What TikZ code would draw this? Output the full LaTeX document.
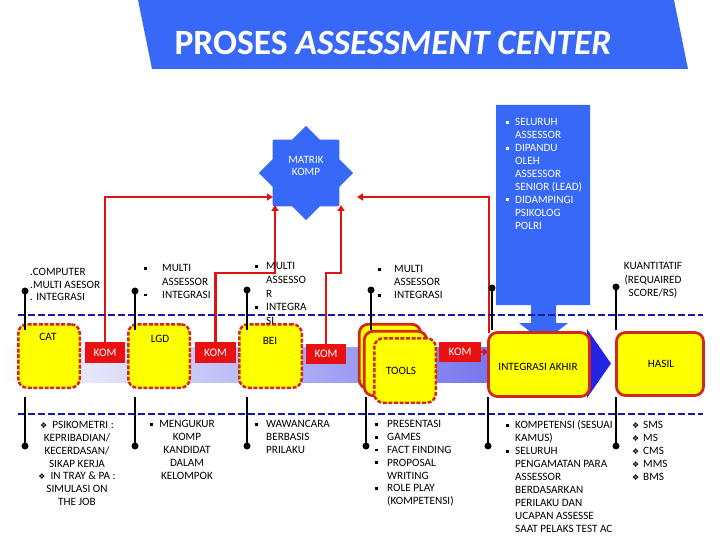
\documentclass[tikz,border=0pt]{standalone}
\usepackage{fontspec}
\setmainfont{Carlito}
\newfontfamily\dejavu{DejaVu Sans}
\usetikzlibrary{shapes.geometric,arrows.meta}
\definecolor{titleblue}{RGB}{56,104,248}
\definecolor{kred}{RGB}{232,16,16}
\definecolor{lred}{RGB}{222,20,20}
\definecolor{bred}{RGB}{210,40,25}
\definecolor{byellow}{RGB}{255,255,0}
\definecolor{navy}{RGB}{25,25,165}
\definecolor{bandblue}{RGB}{90,90,235}
\definecolor{headblue}{RGB}{35,35,230}
\newcommand{\bul}{\raisebox{2.2pt}{\rule{2.8pt}{2.8pt}}}
\newcommand{\dia}{{\dejavu\fontsize{8}{8}\selectfont ❖}}
\newcommand{\sz}[1]{\fontsize{11.2}{#1}\selectfont}
\tikzset{
 ybox/.style={draw=bred, fill=byellow, line width=2.5pt, rounded corners=9pt, dash pattern=on 4pt off 1.6pt, inner sep=0},
 ysolid/.style={draw=bred, fill=byellow, line width=2.8pt, rounded corners=9pt, inner sep=0},
 kombox/.style={fill=kred, text=white, inner sep=0, font=\fontsize{11.5}{12}\selectfont},
 redline/.style={draw=lred, line width=2.4pt},
 redarrow/.style={redline, -{Triangle[length=6pt,width=7pt]}},
 conn/.style={line width=2.4pt, draw=black},
 dotnode/.style={circle, fill=black, inner sep=0, minimum size=7pt},
 navydash/.style={draw=navy, line width=2.6pt, dash pattern=on 7pt off 3pt},
 txt/.style={inner sep=0, align=left, anchor=north west},
 boxlabel/.style={inner sep=0, font=\fontsize{11.2}{12}\selectfont},
}
\begin{document}
\begin{tikzpicture}[x=1pt,y=-1pt]
\useasboundingbox (0,0) rectangle (720,540);
% title banner
\fill[titleblue] (138,0) -- (674,0) -- (688,69) -- (152,69) -- cycle;
\node[text=white, inner sep=0, font=\fontsize{35.5}{37}\selectfont\bfseries] (title) at (393,43) {PROSES \textit{ASSESSMENT CENTER}};
% band arrow
\shade[left color=white, right color=bandblue] (0,347) rectangle (590,382);
\fill[headblue] (587,329) -- (611,363.5) -- (587,398) -- cycle;
% blue box with down arrow
\fill[titleblue] (496,105) -- (590,105) -- (590,305) -- (556,305) -- (556,323) -- (568,323) -- (543.5,342) -- (519,323) -- (531,323) -- (531,305) -- (496,305) -- cycle;
\node[txt, text=white, font=\sz{12.9}] (tblue) at (515,118.5) {\llap{\bul\hspace{6.5pt}}SELURUH\\ASSESSOR\\\llap{\bul\hspace{6.5pt}}DIPANDU\\OLEH\\ASSESSOR\\SENIOR (LEAD)\\\llap{\bul\hspace{6.5pt}}DIDAMPINGI\\PSIKOLOG\\POLRI};
% star
\node[star, star points=8, star point ratio=1.3, minimum size=94pt, inner sep=0, fill=titleblue] (star) at (306,173) {};
\node[text=white, font=\sz{12.5}, align=center, inner sep=0] (starL) at (306,166) {MATRIK\\KOMP};
% KOM boxes
\node[kombox, minimum width=40pt, minimum height=21pt] (kom1) at (105,352.5) {KOM};
\node[kombox, minimum width=41pt, minimum height=21pt] (kom2) at (215.5,352.5) {KOM};
\node[kombox, minimum width=40pt, minimum height=20pt] (kom3) at (326,354) {KOM};
\node[kombox, minimum width=42pt, minimum height=20pt] (kom4) at (460,352) {KOM};
% red connectors
\coordinate (s1) at (273,197);
\coordinate (s2) at (275,205);
\coordinate (s3) at (341,205);
\coordinate (s4) at (357,197);
\coordinate (i4) at (489,333);
\draw[redarrow] (kom1.north) |- (s1);
\draw[redarrow] (kom2.north) -- ++(0,-69) -| (s2);
\draw[redarrow] (kom3.north) -- ++(0,-71) -| (s3);
\draw[redarrow] (i4) |- (s4);
% yellow boxes
\node[ybox, minimum width=61.5pt, minimum height=63.5pt] (cat) at (49,356) {};
\node[ybox, minimum width=61.5pt, minimum height=63.5pt] (lgd) at (159,356) {};
\node[ybox, minimum width=62.5pt, minimum height=63.5pt] (bei) at (270.5,356) {};
\node[ysolid, minimum width=61.5pt, minimum height=64.5pt] (toolsA) at (390,356.5) {};
\node[ysolid, minimum width=62.5pt, minimum height=64.5pt] (toolsB) at (395.5,363.5) {};
\node[ybox, minimum width=61.5pt, minimum height=64.5pt] (tools) at (405,370.5) {};
\draw[redline, -{Triangle[length=5pt,width=7pt]}] (kom4.east) -- (kom4.east -| 488,0);
\node[ysolid, minimum width=101pt, minimum height=64pt] (integ) at (539,364.5) {};
\node[ysolid, minimum width=87pt, minimum height=63pt] (hasil) at (660,364) {};
\node[boxlabel] (catL) at (48,337) {CAT};
\node[boxlabel] (lgdL) at (160,339) {LGD};
\node[boxlabel] (beiL) at (270,341) {BEI};
\node[boxlabel] (toolsL) at (401,371) {TOOLS};
\node[boxlabel] (integL) at (538,367) {INTEGRASI AKHIR};
\node[boxlabel] (hasilL) at (661,364) {HASIL};
% dashed separators
\draw[navydash] (18,315) -- (703,315);
\draw[navydash] (18,414) -- (703,414);
% black connectors
\foreach \n/\x/\y in {t1/25/291, t2/135/291, t3/247/290, t4/371/290, t5/492/288, t6/616/287} {
  \node[dotnode] (\n) at (\x,\y) {};
  \coordinate (\n-e) at (\x,330);
  \draw[conn] (\n.center) -- (\n-e);
}
\foreach \n/\x in {b1/25, b2/135, b3/247, b4/366, b5/488, b6/616} {
  \node[dotnode] (\n) at (\x,446) {};
  \coordinate (\n-s) at (\x,397);
  \draw[conn] (\n-s) -- (\n.center);
}
% upper texts
\node[txt, font=\sz{12.6}] (tcat) at (30,268) {.COMPUTER\\.MULTI ASESOR\\. INTEGRASI};
\node[txt, font=\sz{13.4}] (tlgd) at (162,264.5) {\llap{\bul\hspace{15pt}}MULTI\\ASSESSOR\\\llap{\bul\hspace{15pt}}INTEGRASI};
\node[txt, font=\sz{13.7}] (tbei) at (266,262.5) {\llap{\bul\hspace{8.5pt}}MULTI\\ASSESSO\\R\\\llap{\bul\hspace{8.5pt}}INTEGRA\\SI};
\node[txt, font=\sz{13}] (ttools) at (394,265.5) {\llap{\bul\hspace{13.5pt}}MULTI\\ASSESSOR\\\llap{\bul\hspace{13.5pt}}INTEGRASI};
\node[txt, align=center, anchor=north, font=\sz{13.5}] (thasil) at (653,262.5) {KUANTITATIF\\(REQUAIRED\\SCORE/RS)};
% lower texts
\node[txt, align=center, anchor=north, font=\sz{12.7}] (bcat) at (77,421.5) {\dia\hspace{5pt}PSIKOMETRI :\\KEPRIBADIAN/\\KECERDASAN/\\SIKAP KERJA\\\dia\hspace{5pt}IN TRAY \& PA :\\SIMULASI ON\\THE JOB};
\node[txt, align=center, anchor=north, font=\sz{12.8}] (blgd) at (187,420.5) {\llap{\bul\hspace{6pt}}MENGUKUR\\KOMP\\KANDIDAT\\DALAM\\KELOMPOK};
\node[txt, font=\sz{12.7}] (bbei) at (266,420.5) {\llap{\bul\hspace{8.5pt}}WAWANCARA\\BERBASIS\\PRILAKU};
\node[txt, font=\sz{12.8}] (btools) at (387,420.5) {\llap{\bul\hspace{9.5pt}}PRESENTASI\\\llap{\bul\hspace{9.5pt}}GAMES\\\llap{\bul\hspace{9.5pt}}FACT FINDING\\\llap{\bul\hspace{9.5pt}}PROPOSAL\\WRITING\\\llap{\bul\hspace{9.5pt}}ROLE PLAY\\(KOMPETENSI)};
\node[txt, font=\sz{13}] (binteg) at (515,420.5) {\llap{\bul\hspace{6.5pt}}KOMPETENSI (SESUAI\\KAMUS)\\\llap{\bul\hspace{6.5pt}}SELURUH\\PENGAMATAN PARA\\ASSESSOR\\BERDASARKAN\\PERILAKU DAN\\UCAPAN ASSESSE\\SAAT PELAKS TEST AC};
\node[txt, font=\sz{13}] (bhasil) at (643,421.5) {\llap{\dia\hspace{4pt}}SMS\\\llap{\dia\hspace{4pt}}MS\\\llap{\dia\hspace{4pt}}CMS\\\llap{\dia\hspace{4pt}}MMS\\\llap{\dia\hspace{4pt}}BMS};
\end{tikzpicture}
\end{document}
